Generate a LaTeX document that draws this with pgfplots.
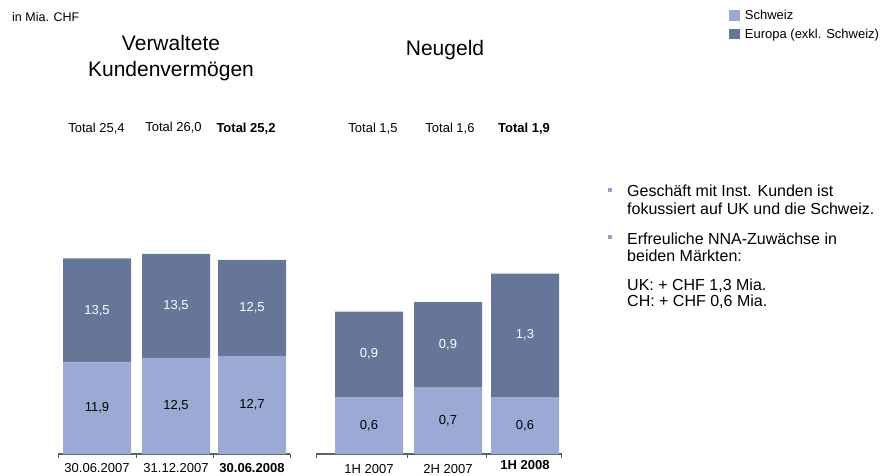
\documentclass[border=0pt]{standalone}
\usepackage{fontspec}
\setmainfont{Liberation Sans}
\usepackage{pgfplots}
\pgfplotsset{compat=1.18}
\usepackage{pgfplotstable}

\definecolor{chlight}{RGB}{155,170,212}
\definecolor{eudark}{RGB}{101,118,152}
\definecolor{axisgray}{RGB}{96,96,96}
\definecolor{tickblue}{RGB}{70,90,130}
\definecolor{bulletgray}{RGB}{150,160,190}

% Verwaltete Kundenvermoegen in Mia. CHF (x = Balkenmitte)
\pgfplotstableread{
x   ch    eu
97  11.9  13.5
176 12.5  13.5
252 12.7  12.5
}\aum
% Neugeld in Mia. CHF
\pgfplotstableread{
x   ch   eu
369 0.6  0.9
448 0.7  0.9
525 0.6  1.3
}\nna

\newcommand{\fs}[1]{\fontsize{#1}{#1}\selectfont}

\pgfplotsset{
  barbase/.style={
    scale only axis,
    x=1pt,
    ymin=0,
    enlargelimits=false,
    axis x line=bottom,
    axis y line=none,
    axis line style={-, draw=axisgray, line width=1.2pt},
    ybar stacked,
    bar width=68pt,
    major tick length=4pt,
    tick align=outside,
    tick style={draw=tickblue, line width=0.8pt},
    xticklabels={},
    extra x tick style={tick style={draw=none}, xtick style={draw=none}},
    every tick label/.append style={font=\fs{13}, anchor=base, text=black},
    /pgf/number format/use comma,
    /pgf/number format/fixed,
    /pgf/number format/fixed zerofill,
    /pgf/number format/precision=1,
    /pgf/number format/assume math mode=true,
    point meta=explicit,
    nodes near coords,
    every node near coord/.append style={anchor=center, font=\fs{13}},
    clip=false,
  },
  sqlegend/.style={legend image code/.code={\fill[##1] (0pt,-5.3pt) rectangle (11.5pt,5.3pt);}},
  ch/.style={fill=chlight, draw=none, sqlegend,
    every node near coord/.append style={text=black}},
  eu/.style={fill=eudark, draw=none, sqlegend,
    every node near coord/.append style={text=white}},
}

\begin{document}
\begin{tikzpicture}
\path[use as bounding box] (0pt,0pt) rectangle (885pt,475pt);

% Verwaltete Kundenvermoegen
\begin{axis}[barbase,
  at={(58pt,21pt)}, anchor=south west,
  y=7.7pt, ymax=30,
  xmin=58, xmax=290,
  xtick={58,136,213,290},
  extra x ticks={97,176,252},
  extra x tick labels={30.06.2007,31.12.2007,\textbf{30.06.2008}},
  every tick label/.append style={yshift=-14.5pt},
]
\addplot[ch] table[x=x, y=ch, meta=ch] {\aum};
\addplot[eu] table[x=x, y=eu, meta=eu] {\aum};
\end{axis}

% Neugeld
\begin{axis}[barbase,
  at={(316pt,21pt)}, anchor=south west,
  y=95pt, ymax=2.2,
  xmin=316, xmax=561.5,
  xtick={316,407,486,561.5},
  extra x ticks={369,448,525},
  extra x tick labels={1H 2007,2H 2007,\raisebox{3.5pt}{\textbf{1H 2008}}},
  every tick label/.append style={yshift=-15pt},
  legend style={at={(axis description cs:0,0)}, xshift=412.7pt, yshift=446pt,
    anchor=north west, draw=none, fill=none, font=\fs{13}, inner sep=0pt,
    row sep=3.5pt, cells={anchor=west},
    nodes={inner xsep=4.5pt}},
]
\addplot[ch] table[x=x, y=ch, meta=ch] {\nna};
\addplot[eu] table[x=x, y=eu, meta=eu] {\nna};
\legend{Schweiz, Europa (exkl. Schweiz)}
\end{axis}

% Kopfzeile und Titel
\node[anchor=base west, inner sep=0pt, font=\fs{12.5}] at (12pt,453pt) {in Mia. CHF};
\node[anchor=base, inner sep=0pt, font=\fs{21}] at (171pt,424pt) {Verwaltete};
\node[anchor=base, inner sep=0pt, font=\fs{21}] at (171pt,399pt) {Kundenvermögen};
\node[anchor=base, inner sep=0pt, font=\fs{21}] at (445pt,419pt) {Neugeld};

% Summen
\begin{scope}[every node/.style={anchor=base, inner sep=0pt, font=\fs{13}}]
\node at (96.5pt,343pt) {Total 25,4};
\node at (173.5pt,344pt) {Total 26,0};
\node at (246pt,343pt) {\textbf{Total 25,2}};
\node at (373pt,343pt) {Total 1,5};
\node at (450pt,343pt) {Total 1,6};
\node at (524pt,343pt) {\textbf{Total 1,9}};
\end{scope}

% Kommentar rechts
\begin{scope}[every node/.style={anchor=base west, inner sep=0pt, font=\fs{16}}]
\fill[bulletgray] (608pt,283pt) rectangle (612pt,287pt);
\node at (627pt,278.5pt) {Geschäft mit Inst. Kunden ist};
\node at (627pt,261pt) {fokussiert auf UK und die Schweiz.};
\fill[bulletgray] (608pt,236pt) rectangle (612pt,240pt);
\node at (627pt,231pt) {Erfreuliche NNA-Zuwächse in};
\node at (627pt,213.5pt) {beiden Märkten:};
\node at (627pt,184.5pt) {UK: + CHF 1,3 Mia.};
\node at (627pt,168.3pt) {CH: + CHF 0,6 Mia.};
\end{scope}
\end{tikzpicture}
\end{document}
